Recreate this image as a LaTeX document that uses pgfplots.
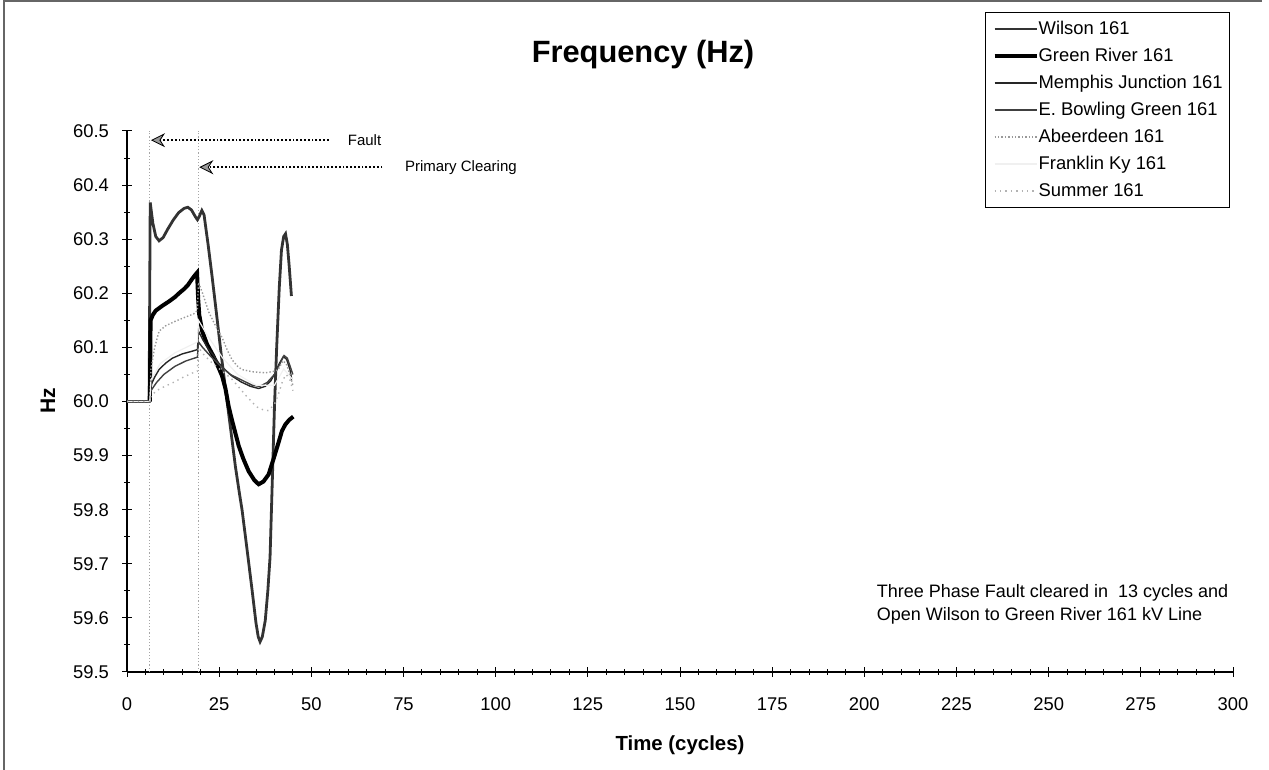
\documentclass[border=0pt]{standalone}
\usepackage{fontspec}
\setmainfont{Liberation Sans}
\setsansfont{Liberation Sans}
\usepackage{pgfplots}
\pgfplotsset{compat=1.18}
\usetikzlibrary{arrows.meta}

\begin{document}
\begin{tikzpicture}[x=1pt,y=1pt]
\useasboundingbox (0,0) rectangle (634.5,385);
% page frame
\draw[black!60, line width=0.7pt] (2,0) -- (2,384.5) -- (631,384.5);

\begin{axis}[
    at={(63.5pt,49pt)}, anchor=south west,
    scale only axis, width=553pt, height=270.5pt,
    xmin=0, xmax=300, ymin=59.5, ymax=60.5,
    axis x line*=bottom, axis y line*=left,
    axis line style={line width=0.6pt},
    xtick={0,25,...,300}, minor x tick num=4,
    ytick={59.5,59.6,59.7,59.8,59.9,60.0,60.1,60.2,60.3,60.4,60.5},
    minor y tick num=1,
    tick align=center, major tick length=5pt, minor tick length=3pt,
    tick style={black, line width=0.5pt},
    tick label style={font=\fontsize{9.2}{11}\selectfont},
    /pgf/number format/assume math mode=true,
    yticklabel style={/pgf/number format/fixed, /pgf/number format/fixed zerofill,
        /pgf/number format/precision=1, xshift=-3pt},
    xticklabel style={yshift=-7pt},
    legend cell align=left,
    legend image code/.code={\draw[#1] (0pt,0pt) -- (21pt,0pt);},
    legend style={
        at={(0.7758,1.22)}, anchor=north west,
        draw=black, line width=0.6pt, fill=white,
        inner xsep=3.5pt, inner ysep=3.75pt, row sep=4.5pt,
        font=\fontsize{9.2}{11}\selectfont,
        nodes={text height=7pt, text depth=2pt, inner sep=0pt},
        /tikz/every even column/.append style={column sep=0.5pt},
    },
]

% fault and clearing instants
\addplot[black!35, densely dotted, line width=0.6pt, forget plot]
    coordinates {(6.2,59.5) (6.2,60.5)};
\addplot[black!35, densely dotted, line width=0.6pt, forget plot]
    coordinates {(19.3,59.5) (19.3,60.5)};

% --- Wilson 161 ---
\addplot[black!80, line width=1.4pt] coordinates {
 (0,60.000) (6.0,60.000) (6.3,60.368) (7.0,60.330) (7.8,60.305) (8.7,60.297)
 (9.8,60.303) (11,60.318) (12.5,60.335) (14,60.349) (15.5,60.357) (16.5,60.359)
 (17.5,60.354) (18.5,60.342) (19.1,60.336) (19.6,60.342) (20.3,60.353) (20.9,60.345)
 (22,60.29) (23.1,60.23) (24.4,60.155) (25.5,60.09) (26.7,60.024) (28.0,59.955)
 (29.4,59.88) (30.5,59.83) (31.2,59.80) (32.5,59.73) (33.9,59.653) (35,59.59)
 (35.6,59.565) (36.1,59.556) (36.7,59.565) (37.5,59.595) (38.2,59.65) (38.8,59.712)
 (39.4,59.85) (40.0,59.99) (40.6,60.10) (41.3,60.21) (41.9,60.28) (42.5,60.305)
 (43.0,60.31) (43.5,60.29) (44.0,60.25) (44.6,60.195)
};
\addlegendentry{Wilson 161}

% --- Green River 161 ---
\addplot[black, line width=2pt] coordinates {
 (6.2,60.0) (6.4,60.15) (7.0,60.16) (7.8,60.168) (9.6,60.177) (11.4,60.185)
 (13,60.193) (14.1,60.20) (15.5,60.208) (16.5,60.215) (17.5,60.225) (18.5,60.234)
 (19.0,60.238) (19.3,60.19) (19.6,60.16) (20.4,60.13) (21.7,60.106) (23.5,60.083)
 (25.0,60.06) (25.8,60.047) (26.7,60.024) (27.6,59.99) (28.5,59.965) (30.3,59.918)
 (31.5,59.895) (33.0,59.871) (34.5,59.855) (35.7,59.847) (37,59.852) (38.4,59.865)
 (39.8,59.895) (41.1,59.924) (42.0,59.945) (42.9,59.957) (44.0,59.966) (45.1,59.972)
};
\addlegendentry{Green River 161}

% --- Memphis Junction 161 ---
\addplot[black!85, line width=0.7pt] coordinates {
 (0,60.0) (6.2,60.0) (6.5,60.03) (7.5,60.045) (8.7,60.059) (10.5,60.071) (12.3,60.08)
 (15,60.088) (17.7,60.093) (19.1,60.096) (19.4,60.13) (20.5,60.115) (22,60.098)
 (23.5,60.085) (24.9,60.071) (26.7,60.058) (28.5,60.047) (31,60.036) (33.5,60.028)
 (35.7,60.024) (37.5,60.028) (39,60.038) (40.2,60.053) (41.3,60.07) (42.4,60.083)
 (43.3,60.078) (44.2,60.059) (44.7,60.04)
};
\addlegendentry{Memphis Junction 161}

% --- E. Bowling Green 161 ---
\addplot[black!75, line width=0.7pt] coordinates {
 (0,60.0) (6.2,60.0) (6.5,60.02) (8,60.035) (10,60.05) (13,60.065) (16,60.075)
 (19.1,60.082) (19.4,60.11) (20.5,60.1) (22.5,60.085) (25,60.068) (28,60.05)
 (31,60.04) (34,60.03) (36,60.028) (38,60.035) (40,60.05) (41.5,60.07) (42.6,60.085)
 (43.5,60.08) (44.5,60.06) (45,60.05)
};
\addlegendentry{E. Bowling Green 161}

% --- Abeerdeen 161 ---
\addplot[black!40, densely dotted, line width=0.7pt] coordinates {
 (0,60.0) (6.2,60.0) (6.5,60.06) (7.5,60.1) (8.7,60.13) (10.5,60.14) (13,60.148)
 (15.5,60.155) (18.1,60.162) (19.1,60.168) (19.4,60.22) (20.5,60.2) (22.2,60.165)
 (24,60.14) (25.8,60.118) (27.2,60.095) (28.5,60.077) (30,60.065) (31.2,60.059)
 (34,60.055) (37.5,60.053) (40,60.056) (41,60.059) (42.3,60.075) (43.2,60.07)
 (44.2,60.05) (45,60.03)
};
\addlegendentry{Abeerdeen 161}

% --- Franklin Ky 161 ---
\addplot[black!6, line width=0.6pt] coordinates {
 (0,60.0) (6.2,60.0) (6.5,60.04) (9,60.07) (13,60.09) (19.1,60.11) (19.4,60.15)
 (22,60.12) (26,60.08) (30,60.05) (35,60.03) (40,60.03) (42.5,60.06) (45,60.04)
};
\addlegendentry{Franklin Ky 161}

% --- Summer 161 ---
\addplot[black!30, dotted, line width=0.7pt] coordinates {
 (0,60.0) (6.2,60.0) (6.5,60.01) (8,60.02) (10,60.027) (12.5,60.035) (15,60.044)
 (17.5,60.052) (19.1,60.056) (19.4,60.1) (21,60.085) (23,60.072) (25.5,60.058)
 (28.5,60.041) (30.5,60.025) (32.5,60.009) (35.2,59.99) (36.8,59.985) (38.4,59.983)
 (40,59.995) (41,60.012) (42.3,60.04) (43.2,60.05) (44.2,60.04) (45,60.02)
};
\addlegendentry{Summer 161}

% event arrows
\draw[black, line width=0.9pt, densely dotted,
      -{Stealth[length=7pt, width=7pt, fill=black!40, line width=0.4pt]}]
    (axis cs:54.7,60.483) -- (axis cs:6.5,60.483);
\node[anchor=west, font=\fontsize{7.5}{9}\selectfont] at (axis cs:58,60.483) {Fault};
\draw[black, line width=0.9pt, densely dotted,
      -{Stealth[length=7pt, width=7pt, fill=black!40, line width=0.4pt]}]
    (axis cs:69.3,60.433) -- (axis cs:19.6,60.433);
\node[anchor=west, font=\fontsize{7.5}{9}\selectfont] at (axis cs:73.5,60.433) {Primary Clearing};

% case description
\node[anchor=west, align=left, font=\fontsize{9}{11.5}\selectfont]
    at (axis cs:201.5,59.625)
    {Three Phase Fault cleared in\ \ 13 cycles and\\Open Wilson to Green River 161 kV Line};
\end{axis}

\node[font=\bfseries\fontsize{15.4}{18}\selectfont] at (321.5,357.5) {Frequency (Hz)};
\node[font=\bfseries\fontsize{10.2}{12}\selectfont] at (340,12.5) {Time (cycles)};
\node[font=\bfseries\fontsize{10.5}{12}\selectfont, rotate=90] at (24,184.5) {Hz};
\end{tikzpicture}
\end{document}
